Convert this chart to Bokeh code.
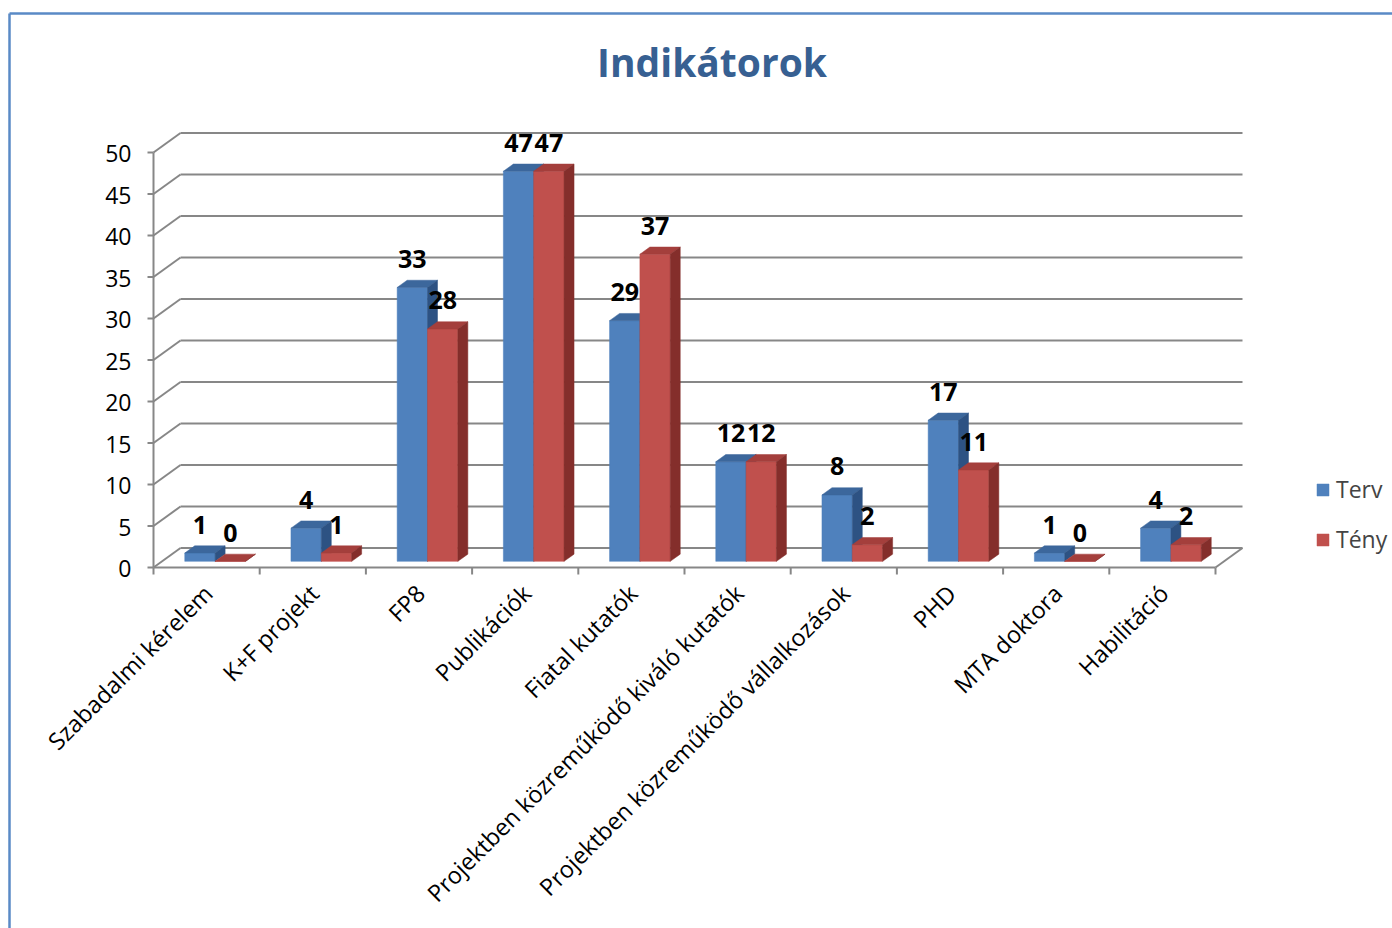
import math
from bokeh.plotting import figure
from bokeh.models import ColumnDataSource, Range1d, Legend, LegendItem
from bokeh.core.properties import value
from bokeh.embed import file_html
from bokeh.resources import INLINE

# ---------------- data ----------------
title_text = "Indikátorok"
categories = [
    "Szabadalmi kérelem",
    "K+F projekt",
    "FP8",
    "Publikációk",
    "Fiatal kutatók",
    "Projektben közreműködő kiváló kutatók",
    "Projektben közreműködő vállalkozások",
    "PHD",
    "MTA doktora",
    "Habilitáció",
]
terv = [1, 4, 33, 47, 29, 12, 8, 17, 1, 4]
teny = [0, 1, 28, 47, 37, 12, 2, 11, 0, 2]
series_names = ["Terv", "Tény"]
y_ticks = [0, 5, 10, 15, 20, 25, 30, 35, 40, 45, 50]

# ---------------- layout (pixels) ----------------
W, H = 1392, 928
MARGIN = 0
X0_PAGE = 153.0      # page x of the front-left corner of the floor
Y0_PAGE = 567.0      # page y of value 0 on the front plane
PX_CAT = 106.2       # pixels per category
PX_VAL = 8.3         # pixels per value unit
DEPTH_X, DEPTH_Y = 27.0, 19.5   # back wall offset in pixels (right, up)
FONT = "Open Sans"

n = len(categories)
DXd = DEPTH_X / PX_CAT
DYd = DEPTH_Y / PX_VAL
BW = 1.0 / 3.5               # bar width (gap width 150%)
F0, F1 = 0.315, 0.685        # bar front / back depth fractions
ymax = y_ticks[-1]


def sx(page_x):
    return (page_x - X0_PAGE) / PX_CAT


def sy(page_y):
    return (Y0_PAGE - page_y) / PX_VAL


x_start = sx(MARGIN)
x_end = x_start + W / PX_CAT
y_end = sy(MARGIN)
y_start = y_end - H / PX_VAL

p = figure(width=W, height=H, output_backend="svg", toolbar_location=None,
           x_range=Range1d(x_start, x_end), y_range=Range1d(y_start, y_end),
           x_axis_type=None, y_axis_type=None, min_border=0)
p.outline_line_color = None
p.xgrid.visible = False
p.ygrid.visible = False
p.background_fill_color = "white"
p.border_fill_color = "white"

GRID = "#878787"

# ---- outer border (left and top edges) ----
p.segment(x0=[sx(9), sx(9)], y0=[sy(13), sy(13)], x1=[x_end, sx(9)], y1=[sy(13), y_start],
          line_color="#5A8AC6", line_width=2.5)

# ---- back wall gridlines + side-wall diagonals ----
p.segment(x0=[DXd] * len(y_ticks), y0=[v + DYd for v in y_ticks],
          x1=[n + DXd] * len(y_ticks), y1=[v + DYd for v in y_ticks],
          line_color=GRID, line_width=2)
p.segment(x0=[0] * len(y_ticks), y0=y_ticks,
          x1=[DXd] * len(y_ticks), y1=[v + DYd for v in y_ticks],
          line_color=GRID, line_width=2)
# floor right edge
p.segment(x0=[n], y0=[0], x1=[n + DXd], y1=[DYd], line_color=GRID, line_width=2)
# front axes
p.segment(x0=[0, 0], y0=[0, 0], x1=[0, n], y1=[ymax, 0], line_color=GRID, line_width=2)
# y ticks
p.segment(x0=[sx(147)] * len(y_ticks), y0=y_ticks, x1=[0] * len(y_ticks), y1=y_ticks,
          line_color=GRID, line_width=2)
# x ticks
p.segment(x0=list(range(n + 1)), y0=[0] * (n + 1), x1=list(range(n + 1)),
          y1=[-7 / PX_VAL] * (n + 1), line_color=GRID, line_width=2)

# y tick labels
p.text(x=[sx(131)] * len(y_ticks), y=[v - 1 / PX_VAL for v in y_ticks],
       text=[str(v) for v in y_ticks], text_align="right", text_baseline="alphabetic",
       text_font=value(FONT), text_font_size=value("23px"), text_color="black")

# x category labels (rotated 45°)
p.text(x=[i + 0.5 + 1.5 / PX_CAT for i in range(n)], y=[sy(588.5)] * n, text=categories,
       angle=math.pi / 4, text_align="right", text_baseline="middle",
       text_font=value(FONT), text_font_size=value("23.5px"), text_color="black")

# ---- 3D bars ----
colors = [("#4F81BD", "#3C679C", "#2D5283"), ("#C0504D", "#A43F3C", "#842E2B")]
fronts = []
for s, vals in enumerate([terv, teny]):
    front, top_face, side_face = colors[s]
    L, R, B, T = [], [], [], []
    txs, tys, sxs, sys_ = [], [], [], []
    ddx = (F1 - F0) * DXd
    ddy = (F1 - F0) * DYd
    for i, v in enumerate(vals):
        center = i + 0.5 + F0 * DXd
        left = center - BW + s * BW
        right = left + BW
        bot = F0 * DYd
        top = v + F0 * DYd
        L.append(left); R.append(right); B.append(bot); T.append(top)
        txs.append([left, right, right + ddx, left + ddx])
        tys.append([top, top, top + ddy, top + ddy])
        sxs.append([right, right + ddx, right + ddx, right])
        sys_.append([bot, bot + ddy, top + ddy, top])
    src = ColumnDataSource(dict(left=L, right=R, bottom=B, top=T, value=vals))
    r = p.quad(left="left", right="right", bottom="bottom", top="top", source=src,
               fill_color=front, line_color=front, line_width=0.5)
    fronts.append(r)
    p.patches(xs=txs, ys=tys, fill_color=top_face, line_color=top_face, line_width=0.5)
    p.patches(xs=sxs, ys=sys_, fill_color=side_face, line_color=side_face, line_width=0.5)

# data labels
for s, vals in enumerate([terv, teny]):
    xs = [i + 0.5 + F0 * DXd - BW + s * BW + BW / 2 for i in range(n)]
    ys = [v + F0 * DYd + 28.5 / PX_VAL for v in vals]
    p.text(x=xs, y=ys, text=[str(v) for v in vals], text_align="center",
           text_baseline="alphabetic", text_font=value(FONT),
           text_font_size=value("25px"), text_font_style="bold", text_color="black")

# title
p.text(x=[sx(711.5)], y=[sy(61)], text=[title_text], text_align="center",
       text_baseline="alphabetic", text_font=value(FONT), text_font_size=value("39px"),
       text_font_style="bold", text_color="#376092")

# legend
legend = Legend(items=[LegendItem(label=series_names[k], renderers=[fronts[k]]) for k in range(2)],
                location=(1315 - MARGIN, H - (547 - MARGIN) - 8),
                label_text_font=FONT, label_text_font_size="23px",
                glyph_width=15, glyph_height=15, label_standoff=6, spacing=18,
                padding=0, margin=0, border_line_alpha=0, background_fill_alpha=0)
p.add_layout(legend)

open("out.html", "w").write(file_html(p, INLINE))
